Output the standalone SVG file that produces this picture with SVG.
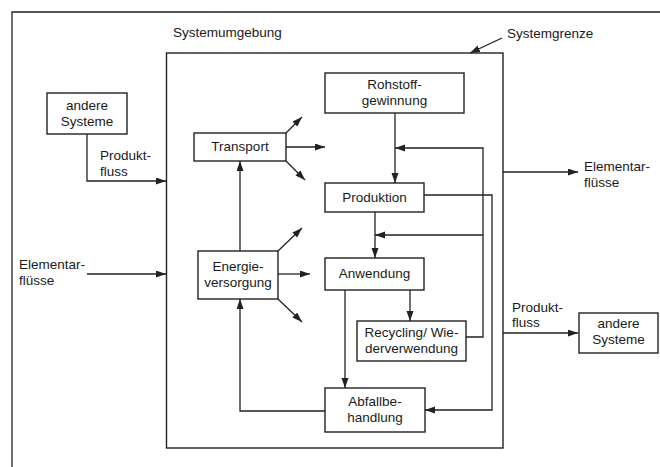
<svg xmlns="http://www.w3.org/2000/svg" width="660" height="467" viewBox="0 0 660 467">
<style>
.box{fill:#fff;stroke:#222;stroke-width:1.4}
.ln{fill:none;stroke:#222;stroke-width:1.3}
.arr{marker-end:url(#ah)}
text{font-family:"Liberation Sans",Arial,sans-serif;font-size:13.5px;fill:#1a1a1a}
.c{text-anchor:middle}
</style>
<defs>
<marker id="ah" markerUnits="userSpaceOnUse" markerWidth="11" markerHeight="8" refX="10" refY="3.5" orient="auto">
<path d="M0,0 L10,3.5 L0,7 z" fill="#222"/>
</marker>
</defs>
<rect width="660" height="467" fill="#fff"/>
<g id="frame">
<path class="ln" d="M12,467 L12,12 L660,12" stroke-width="1.6"/>
<rect id="systemgrenze-box" x="166.5" y="53" width="336.5" height="395" fill="none" stroke="#222" stroke-width="1.4"/>
<text x="173" y="37">Systemumgebung</text>
<text x="507" y="38">Systemgrenze</text>
</g>
<g id="connectors">
<path class="ln arr" d="M502,38 L470,53"/>
<path class="ln arr" d="M87,134 L87,181 L166,181"/>
<path class="ln arr" d="M87,274 L166,274"/>
<path class="ln arr" d="M503,172 L578,172"/>
<path class="ln arr" d="M503,333 L578,333"/>
<path class="ln arr" d="M286,133 L302,117"/>
<path class="ln arr" d="M286,147 L325,147"/>
<path class="ln arr" d="M286,161 L305,180"/>
<path class="ln arr" d="M240,251 L240,161"/>
<path class="ln arr" d="M278,251 L302,228"/>
<path class="ln arr" d="M278,274 L310,274"/>
<path class="ln arr" d="M278,299 L302,322"/>
<path class="ln arr" d="M325,411 L240,411 L240,299"/>
<path class="ln arr" d="M395,113 L395,183"/>
<path class="ln arr" d="M466,337 L483,337 L483,148 L395,148"/>
<path class="ln arr" d="M483,235 L375,235"/>
<path class="ln arr" d="M424,195 L492,195 L492,410 L425,410"/>
<path class="ln arr" d="M375,212 L375,258"/>
<path class="ln arr" d="M410,290 L410,321"/>
<path class="ln arr" d="M345,290 L345,388"/>
</g>
<g id="andere-systeme-links">
<rect class="box" x="47" y="93" width="80" height="41"/>
<text class="c" x="87" y="110">andere</text>
<text class="c" x="87" y="126">Systeme</text>
</g>
<g id="produktfluss-links">
<text x="100" y="160">Produkt-</text>
<text x="100" y="176">fluss</text>
</g>
<g id="elementarfluesse-links">
<text x="19" y="269">Elementar-</text>
<text x="19" y="285">flüsse</text>
</g>
<g id="transport">
<rect class="box" x="194" y="133" width="92" height="28"/>
<text class="c" x="240" y="151">Transport</text>
</g>
<g id="energieversorgung">
<rect class="box" x="198" y="251" width="80" height="48"/>
<text class="c" x="238" y="271">Energie-</text>
<text class="c" x="238" y="287">versorgung</text>
</g>
<g id="rohstoffgewinnung">
<rect class="box" x="325" y="73" width="139" height="40"/>
<text class="c" x="394.5" y="89">Rohstoff-</text>
<text class="c" x="394.5" y="105">gewinnung</text>
</g>
<g id="produktion">
<rect class="box" x="325" y="183" width="99" height="29"/>
<text class="c" x="374.5" y="202">Produktion</text>
</g>
<g id="anwendung">
<rect class="box" x="325" y="258" width="99" height="32"/>
<text class="c" x="374.5" y="278">Anwendung</text>
</g>
<g id="recycling">
<rect class="box" x="357" y="321" width="109" height="40"/>
<text class="c" x="411.5" y="337">Recycling/ Wie-</text>
<text class="c" x="411.5" y="353">derverwendung</text>
</g>
<g id="abfallbehandlung">
<rect class="box" x="325" y="388" width="100" height="44"/>
<text class="c" x="375" y="406">Abfallbe-</text>
<text class="c" x="375" y="422">handlung</text>
</g>
<g id="elementarfluesse-rechts">
<text x="584" y="171">Elementar-</text>
<text x="584" y="187">flüsse</text>
</g>
<g id="produktfluss-rechts">
<text x="512" y="312">Produkt-</text>
<text x="512" y="327">fluss</text>
</g>
<g id="andere-systeme-rechts">
<rect class="box" x="579" y="313" width="79" height="40"/>
<text class="c" x="618.5" y="328">andere</text>
<text class="c" x="618.5" y="344">Systeme</text>
</g>
</svg>
